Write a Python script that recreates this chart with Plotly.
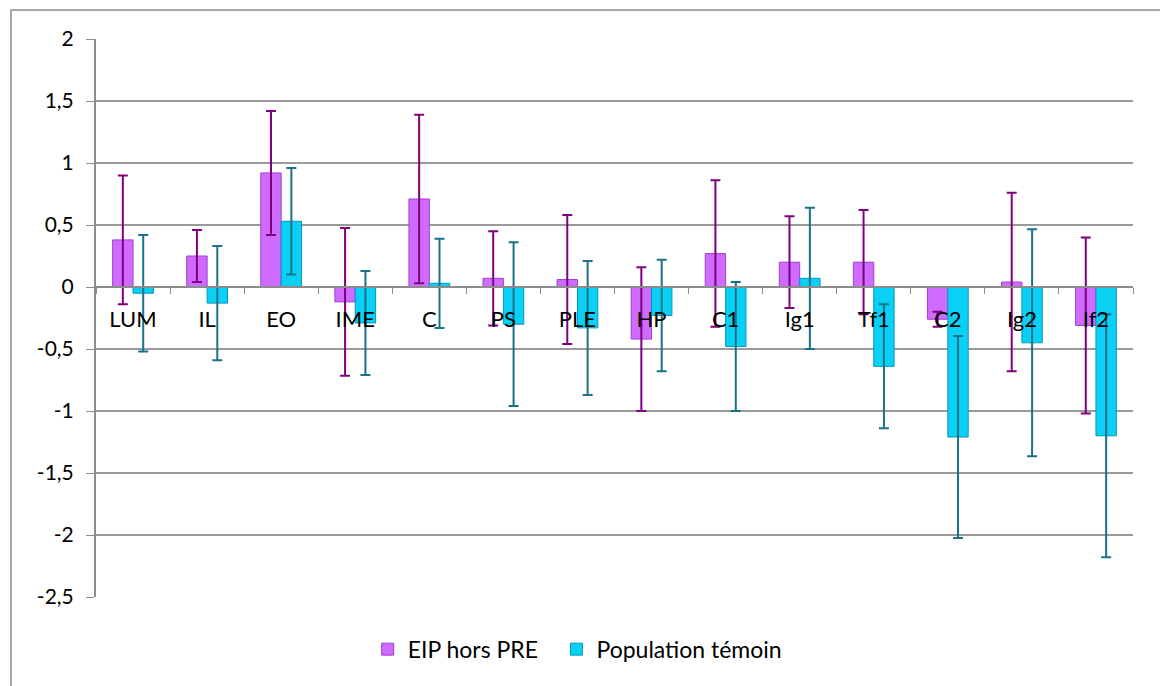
import plotly.graph_objects as go

categories = ["LUM", "IL", "EO", "IME", "C", "PS", "PLE", "HP", "C1", "Ig1", "Tf1", "C2", "Ig2", "If2"]

eip_values = [0.38, 0.25, 0.92, -0.12, 0.71, 0.07, 0.06, -0.42, 0.27, 0.20, 0.20, -0.26, 0.04, -0.31]
eip_errors = [0.52, 0.21, 0.50, 0.595, 0.68, 0.38, 0.52, 0.58, 0.59, 0.37, 0.42, 0.06, 0.72, 0.71]

temoin_values = [-0.05, -0.13, 0.53, -0.29, 0.03, -0.30, -0.33, -0.23, -0.48, 0.07, -0.64, -1.21, -0.45, -1.20]
temoin_errors = [0.47, 0.46, 0.43, 0.42, 0.36, 0.66, 0.54, 0.45, 0.52, 0.57, 0.50, 0.815, 0.915, 0.98]

y_ticks = [2, 1.5, 1, 0.5, 0, -0.5, -1, -1.5, -2, -2.5]
y_tick_text = ["2", "1,5", "1", "0,5", "0", "-0,5", "-1", "-1,5", "-2", "-2,5"]

FONT = "Lato, 'Open Sans', sans-serif"

fig = go.Figure()
fig.add_trace(go.Bar(
    name="EIP hors PRE",
    x=categories,
    y=eip_values,
    marker=dict(color="#CF6BFF", line=dict(color="#A13FD0", width=1)),
    error_y=dict(type="data", array=eip_errors, visible=True,
                 color="#800080", thickness=2, width=5),
    legend="legend",
    showlegend=True,
))
fig.add_trace(go.Bar(
    name="Population témoin",
    x=categories,
    y=temoin_values,
    marker=dict(color="#0AD0F5", line=dict(color="#0797B8", width=1)),
    error_y=dict(type="data", array=temoin_errors, visible=True,
                 color="#177488", thickness=2, width=5),
    legend="legend2",
    showlegend=True,
))

# put the category axis on the zero line
zero_pos = (0 - (-2.5)) / (2 - (-2.5))

legend_style = dict(
    orientation="h",
    xanchor="left",
    y=-0.055, yanchor="top",
    font=dict(family=FONT, size=23),
    itemwidth=30,
    bgcolor="rgba(0,0,0,0)",
)

fig.update_layout(
    width=1160, height=686,
    margin=dict(l=96, r=27, t=39, b=89),
    paper_bgcolor="white",
    plot_bgcolor="white",
    showlegend=True,
    barmode="group",
    bargap=0.45,
    bargroupgap=0,
    font=dict(family=FONT, size=20, color="#000000"),
    xaxis=dict(
        type="category",
        anchor="free",
        position=zero_pos,
        showline=True, linecolor="#8c8c8c", linewidth=2,
        ticks="outside", tickson="boundaries", ticklen=6,
        tickcolor="#8c8c8c", tickwidth=1,
        showgrid=False,
        tickfont=dict(family=FONT, size=22),
        ticklabelstandoff=13,
        layer="above traces",
    ),
    yaxis=dict(
        range=[-2.5, 2],
        tickvals=y_ticks,
        ticktext=y_tick_text,
        showgrid=True, gridcolor="#9a9a9a", gridwidth=1.5,
        showline=True, linecolor="#8c8c8c", linewidth=2,
        ticks="outside", ticklen=8, tickcolor="#8c8c8c",
        zeroline=False,
        tickfont=dict(family=FONT, size=21),
        ticklabelstandoff=8,
        layer="below traces",
    ),
    legend=dict(x=0.262, **legend_style),
    legend2=dict(x=0.444, **legend_style),
    shapes=[dict(
        type="rect", xref="paper", yref="paper",
        x0=-0.082, x1=1.2, y0=-0.3, y1=1.052,
        line=dict(color="#a6a6a6", width=2),
        fillcolor="rgba(0,0,0,0)",
        layer="below",
    )],
)

fig.write_html("out.html")
